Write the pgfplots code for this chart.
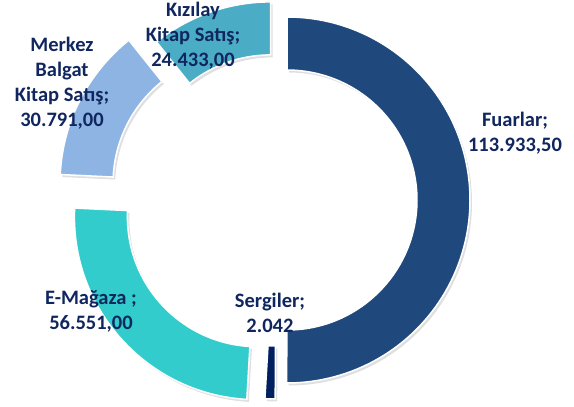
\documentclass[border=0pt]{standalone}
\usepackage{pgfplots}
\pgfplotsset{compat=1.18}
\usepackage{fontspec}
\setmainfont{Carlito}
\usetikzlibrary{shadows,calc}
\definecolor{cF}{RGB}{31,73,125}
\definecolor{cS}{RGB}{0,32,96}
\definecolor{cE}{RGB}{51,204,204}
\definecolor{cM}{RGB}{141,180,226}
\definecolor{cK}{RGB}{75,172,198}
\definecolor{txt}{RGB}{16,38,94}
% data values
\def\vF{113933.5}% Fuarlar
\def\vS{2042}% Sergiler
\def\vE{56551}% E-Magaza
\def\vM{30791}% Merkez Balgat Kitap Satis
\def\vK{24433}% Kizilay Kitap Satis
\edef\tot{\fpeval{\vF+\vS+\vE+\vM+\vK}}
\edef\aA{90}
\edef\aB{\fpeval{\aA-360*\vF/\tot}}
\edef\aC{\fpeval{\aB-360*\vS/\tot}}
\edef\aD{\fpeval{\aC-360*\vE/\tot}}
\edef\aE{\fpeval{\aD-360*\vM/\tot}}
\edef\aF{\fpeval{\aE-360*\vK/\tot}}
\newcommand\slice[4]{%
  \pgfmathsetmacro\mid{(#1+#2)/2}%
  \pgfmathsetmacro\sx{276+#3*cos(\mid)}%
  \pgfmathsetmacro\sy{207+#3*sin(\mid)}%
  \edef\doslice{\noexpand\fill[#4, draw=white, line width=1.5pt,
    drop shadow={opacity=0.25,shadow xshift=2pt,shadow yshift=-2.5pt}]
    (axis cs:\sx,\sy) ++(#1:183pt) arc[start angle=#1, end angle=#2, radius=183pt]
    -- ($(axis cs:\sx,\sy)+(#2:130pt)$) arc[start angle=#2, end angle=#1, radius=130pt] -- cycle;}%
  \doslice
}
\begin{document}
\begin{tikzpicture}
\path[use as bounding box] (0,0) rectangle (574pt,407pt);
\begin{axis}[x=1pt, y=1pt, xmin=0, xmax=574, ymin=0, ymax=407,
  hide axis, clip=false, anchor=south west, at={(0,0)}]
\slice{\aA}{\aB}{11}{cF}
\slice{\aB}{\aC}{16}{cS}
\slice{\aC}{\aD}{25}{cE}
\slice{\aD}{\aE}{37}{cM}
\slice{\aE}{\aF}{16}{cK}
\tikzset{lbl/.style={align=center, text=txt, font=\fontsize{20.5}{25}\selectfont\bfseries}}
\node[lbl] at (axis cs:515,274) {Fuarlar;\\113.933,50};
\node[lbl] at (axis cs:270,94) {Sergiler;\\2.042};
\node[lbl] at (axis cs:91,96) {E-Mağaza ;\\56.551,00};
\node[lbl] at (axis cs:62,324) {Merkez\\Balgat\\Kitap Satış;\\30.791,00};
\node[lbl] at (axis cs:193,371) {Kızılay\\Kitap Satış;\\24.433,00};
\end{axis}
\end{tikzpicture}
\end{document}
